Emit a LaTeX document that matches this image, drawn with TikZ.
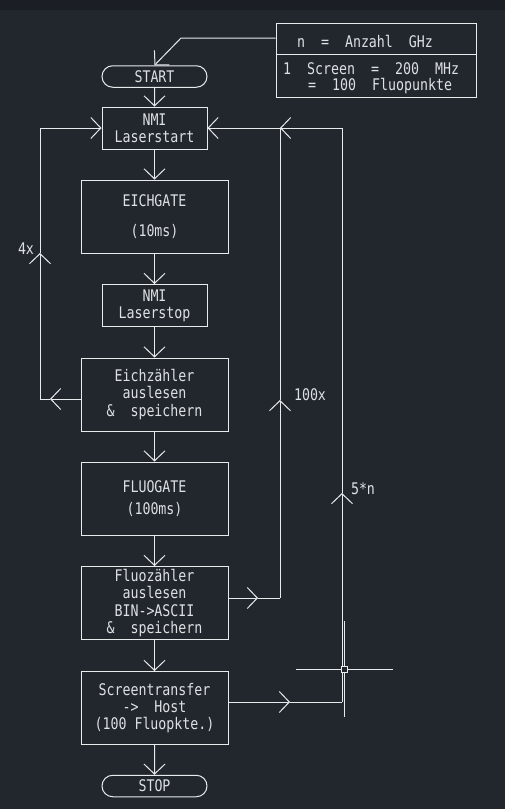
\documentclass[tikz,border=0pt]{standalone}
\usepackage{fontspec}
\newfontfamily\cadfont[FakeStretch=0.83]{DejaVu Sans Mono}
\usetikzlibrary{arrows.meta,shapes.misc}
\definecolor{bg}{RGB}{34,39,46}
\definecolor{topbar}{RGB}{27,30,36}
\definecolor{ln}{RGB}{232,234,236}
\definecolor{tx}{RGB}{222,224,227}
\begin{document}
\begin{tikzpicture}[x=1pt,y=-1pt,
  every node/.style={font=\cadfont\fontsize{16}{17.2}\selectfont, text=tx, inner sep=0pt},
  box/.style={draw=ln, line width=1pt, align=center, minimum width=147pt, minimum height=73pt},
  sbox/.style={box, minimum width=105pt, minimum height=42pt},
  pill/.style={draw=ln, line width=1pt, rounded rectangle, minimum width=105pt, minimum height=21.5pt},
  conn/.style={draw=ln, line width=1pt},
  arr/.style={conn, -{Straight Barb[length=10pt,width=21pt]}},
  lbl/.style={}
]
\fill[bg] (0,0) rectangle (505,809);
\fill[topbar] (0,0) rectangle (505,10);

% info box
\node[draw=ln, line width=1pt, minimum width=200pt, minimum height=74pt] (info) at (376,60) {};
\coordinate (div) at (376,54);
\draw[conn] (info.west |- div) -- (info.east |- div);
\node[lbl] (t1) at (365,41) {n~~=~~Anzahl~~GHz};
\node[lbl, anchor=west] (t2) at (283,69) {1~~Screen~~=~~200~~MHz};
\node[lbl, anchor=west] (t3) at (308,86) {=~~100~~Fluopunkte};

% flow nodes
\node[pill] (start) at (154.5,76.5) {START};
\node[sbox] (ls) at (154.5,128) {NMI\\Laserstart};
\node[box] (eg) at (154.5,216.5) {EICHGATE\\[13pt](10ms)};
\node[sbox] (lp) at (154.5,305.5) {NMI\\Laserstop};
\node[box] (ez) at (154.5,394.5) {Eichzähler\\auslesen\\\&~~speichern};
\node[box] (fg) at (154.5,498.5) {FLUOGATE\\[5pt](100ms)};
\node[box] (fz) at (154.5,603) {Fluozähler\\auslesen\\BIN->ASCII\\\&~~speichern};
\node[box] (st) at (154.5,708) {Screentransfer\\->~~Host\\(100 Fluopkte.)};
\node[pill] (stop) at (154.5,786) {STOP};

% info -> start
\coordinate (bend) at (181,38);
\draw[arr] (info.west |- bend) -- (bend) -- (start.north);

% main chain
\draw[arr] (start) -- (ls);
\draw[arr] (ls) -- (eg);
\draw[arr] (eg) -- (lp);
\draw[arr] (lp) -- (ez);
\draw[arr] (ez) -- (fg);
\draw[arr] (fg) -- (fz);
\draw[arr] (fz) -- (st);
\draw[arr] (st) -- (stop);

% 4x loop
\coordinate (a4) at (50,399);
\coordinate (L1) at (40,399);
\coordinate (u4) at (40,253);
\coordinate (L2) at (40,128);
\draw[arr] (ez.west |- a4) -- (a4);
\draw[conn] (a4) -- (L1);
\draw[arr] (L1) -- (u4);
\draw[conn] (u4) -- (L2);
\draw[arr] (L2) -- (ls.west |- L2);
\node[lbl] (l4) at (26,249) {4x};

% 100x loop
\coordinate (a100) at (258,598);
\coordinate (R1) at (280,598);
\coordinate (u100) at (280,400);
\coordinate (R2) at (280,128);
\draw[arr] (fz.east |- a100) -- (a100);
\draw[conn] (a100) -- (R1);
\draw[arr] (R1) -- (u100);
\draw[conn] (u100) -- (R2);
\draw[arr] (R2) -- (ls.east |- R2);
\node[lbl] (l100) at (310,395) {100x};

% 5*n loop
\coordinate (a5) at (290,702);
\coordinate (S1) at (342,702);
\coordinate (u5) at (342,493);
\coordinate (S2) at (342,128);
\draw[arr] (st.east |- a5) -- (a5);
\draw[conn] (a5) -- (S1);
\draw[arr] (S1) -- (u5);
\draw[conn] (u5) -- (S2);
\draw[arr] (S2) -- (R2);
\node[lbl] (l5) at (363,489) {5*n};

% cursor crosshair
\draw[conn] (344.5,621) -- (344.5,717);
\draw[conn] (296,669) -- (393,669);
\draw[conn, fill=bg] (341.5,666) rectangle (347.5,672);
\end{tikzpicture}
\end{document}
